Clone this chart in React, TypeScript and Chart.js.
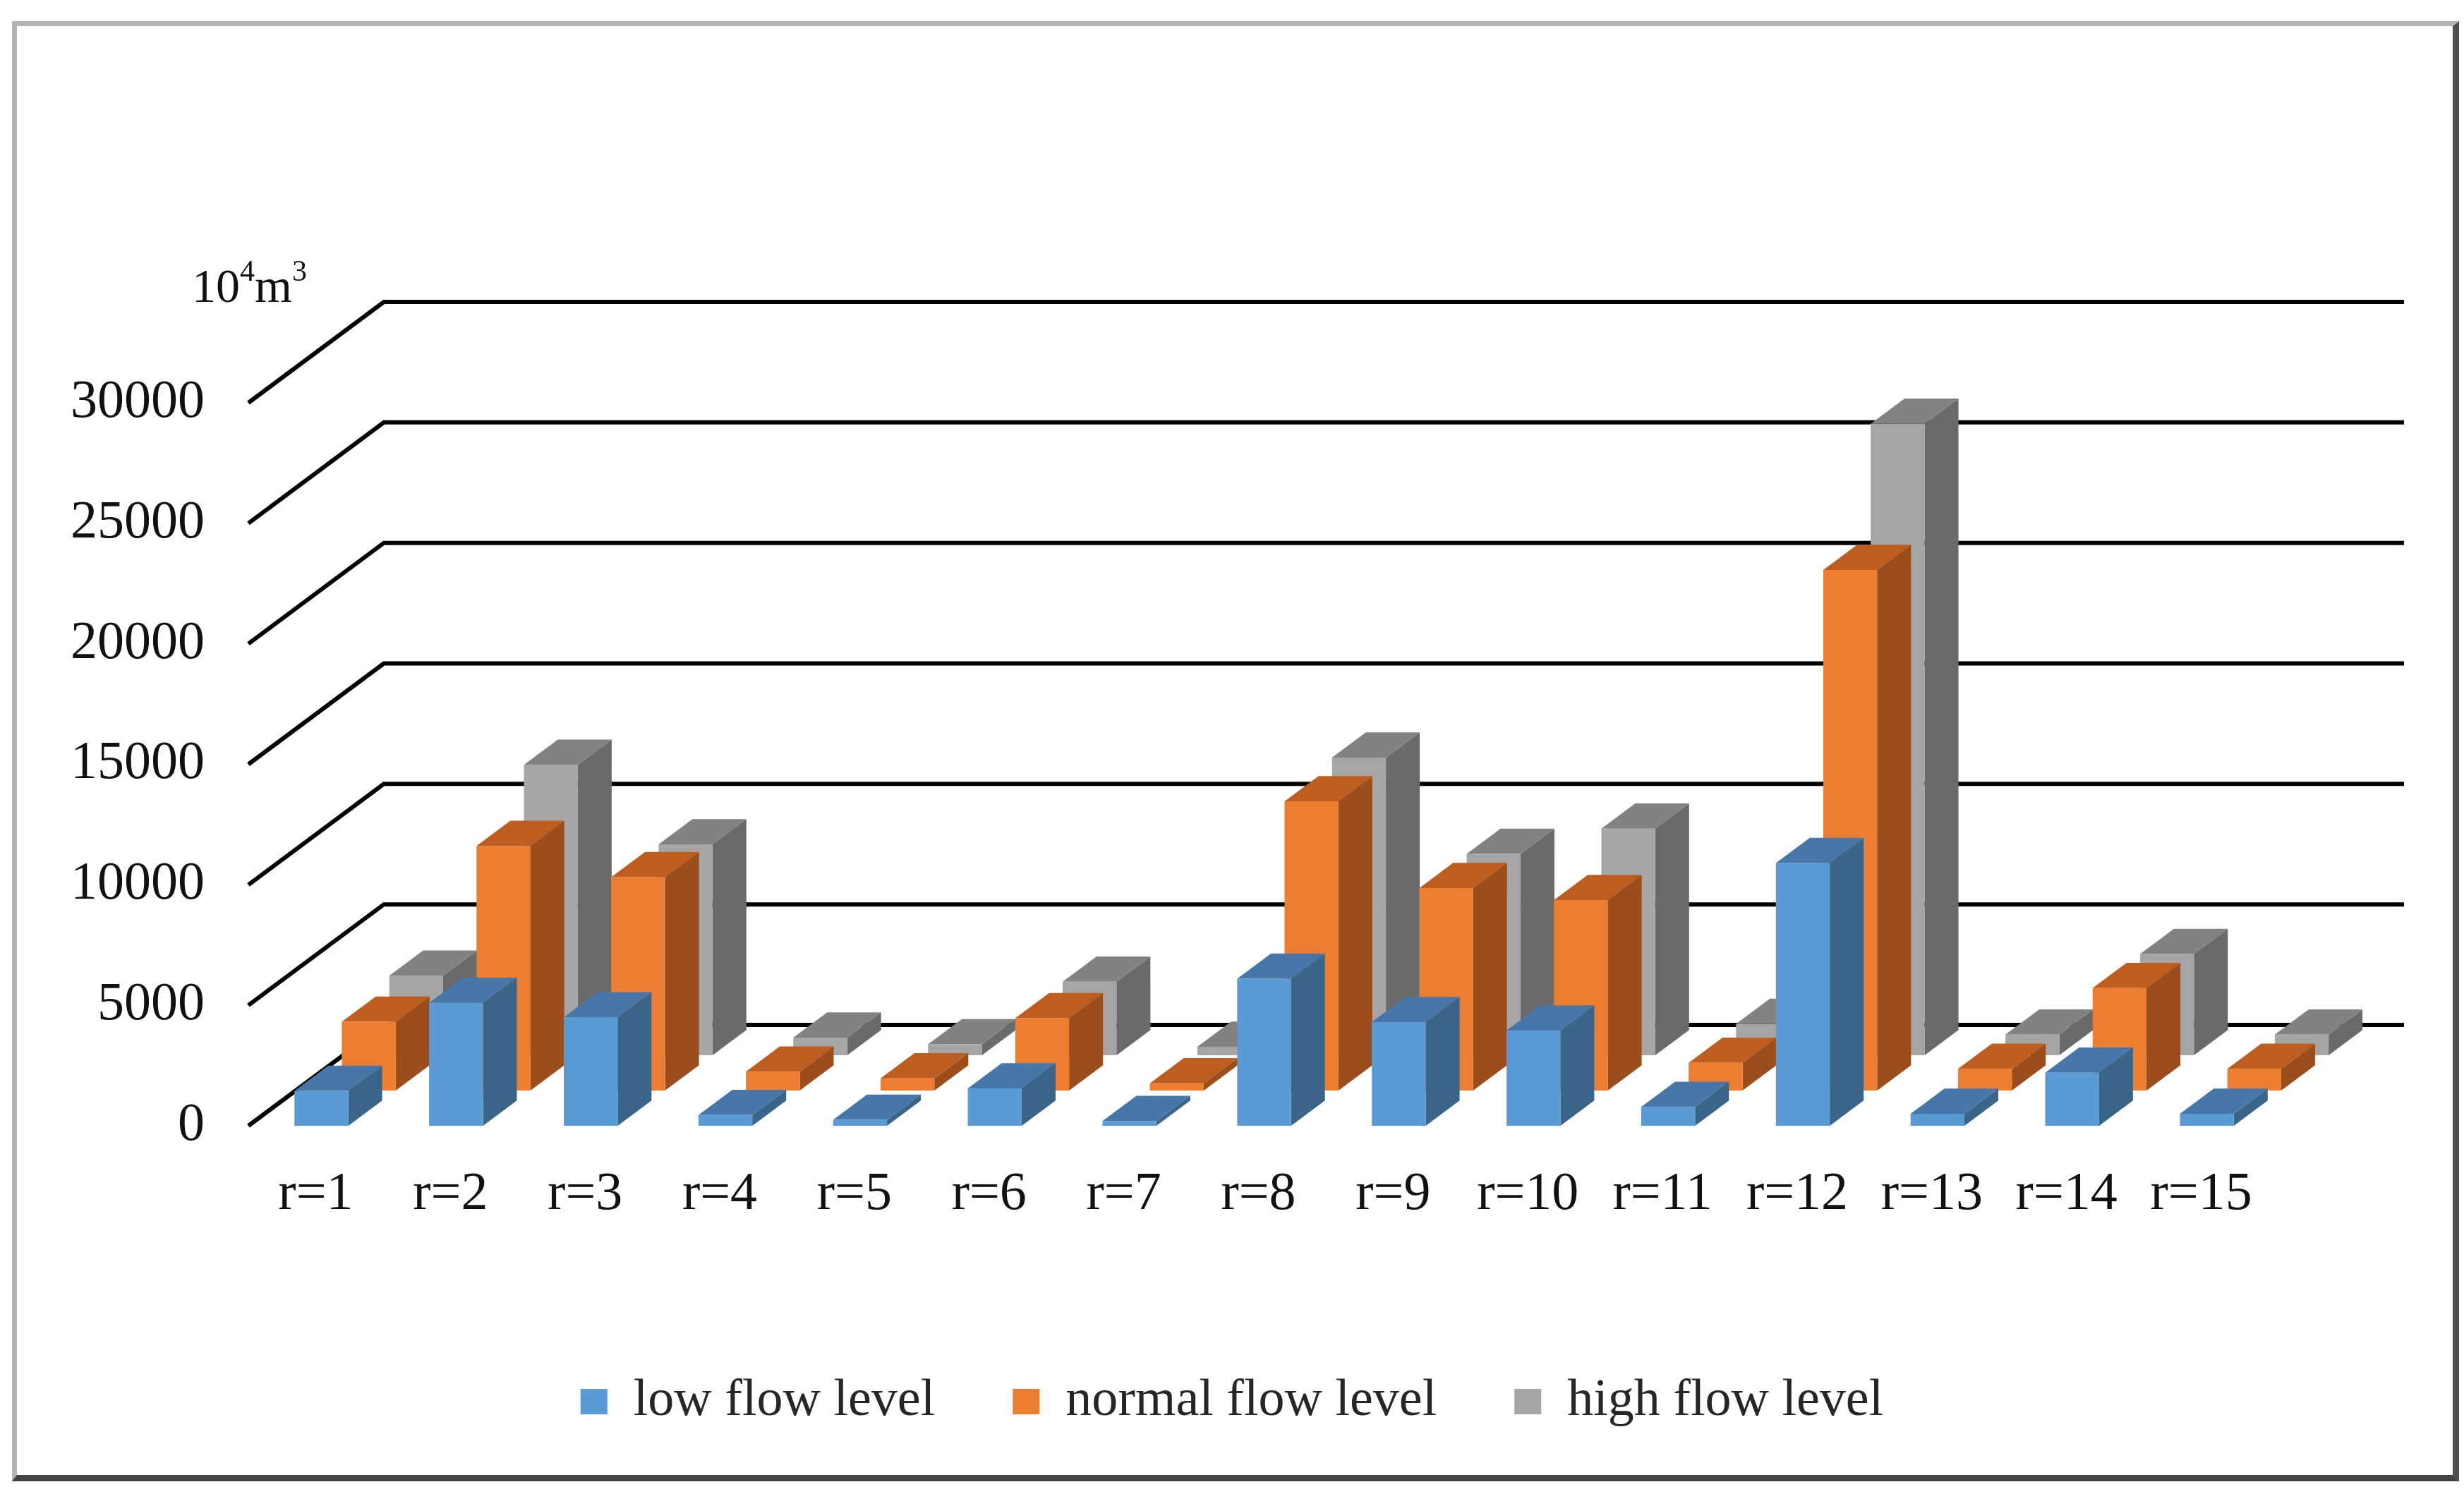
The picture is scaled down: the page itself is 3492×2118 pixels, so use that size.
import React, { useEffect, useRef } from 'react'
import { Chart, registerables } from 'chart.js'

Chart.register(...registerables)

const categories = ['r=1', 'r=2', 'r=3', 'r=4', 'r=5', 'r=6', 'r=7', 'r=8', 'r=9', 'r=10', 'r=11', 'r=12', 'r=13', 'r=14', 'r=15']
const seriesNames = ['low flow level', 'normal flow level', 'high flow level']
const lowFlow = [1450, 5100, 4500, 450, 250, 1550, 200, 6100, 4300, 3950, 780, 10900, 500, 2200, 500]
const normalFlow = [2850, 10150, 8850, 780, 500, 3000, 300, 12000, 8400, 7900, 1150, 21600, 900, 4250, 900]
const highFlow = [3300, 12050, 8750, 730, 450, 3050, 350, 12350, 8350, 9400, 1300, 26200, 850, 4200, 850]
const yTicks = [0, 5000, 10000, 15000, 20000, 25000, 30000]

// front / top / side shades of each series
const shades = [
  { front: '#5b9bd5', top: '#4677a8', side: '#3b6489' },
  { front: '#ed7d31', top: '#bd5e20', side: '#9b4e1c' },
  { front: '#a5a5a5', top: '#828282', side: '#6a6a6a' },
]

const W = 3492
const H = 2118
const PLOT_LEFT = 352
const PLOT_RIGHT = 3215
const PLOT_TOP = 571
const PLOT_BOTTOM = 1596
const DEPTH_X = 192 // floor depth, front edge to back wall
const DEPTH_Y = 143
const SERIES_STEP = 0.35
const BAR_DEPTH = 0.25
const BAR_SHIFT = 8
const FONT = '"Liberation Serif", "Times New Roman", serif'
const TICK_FONT = 76
const LEGEND_FONT = 74
const LEGEND_GAP = 110
const LEGEND_BOTTOM = 84
const X_AXIS_H = H - LEGEND_BOTTOM - (LEGEND_FONT + 10 + LEGEND_GAP) - PLOT_BOTTOM

const fillPoly = (ctx: CanvasRenderingContext2D, pts: number[][], color: string) => {
  ctx.beginPath()
  ctx.moveTo(pts[0][0], pts[0][1])
  for (let i = 1; i < pts.length; i++) ctx.lineTo(pts[i][0], pts[i][1])
  ctx.closePath()
  ctx.fillStyle = color
  ctx.fill()
}

const columns3d = {
  id: 'columns3d',
  beforeDatasetsDraw(chart: any) {
    const { ctx, chartArea, scales } = chart
    ctx.save()

    // side wall and back wall grid
    ctx.strokeStyle = '#000'
    ctx.lineWidth = 6
    ctx.lineJoin = 'miter'
    yTicks.forEach((v) => {
      const py = scales.y.getPixelForValue(v)
      ctx.beginPath()
      ctx.moveTo(chartArea.left, py)
      ctx.lineTo(chartArea.left + DEPTH_X, py - DEPTH_Y)
      ctx.lineTo(chartArea.right + DEPTH_X, py - DEPTH_Y)
      ctx.stroke()
    })

    // columns, back row first
    const dx = BAR_DEPTH * DEPTH_X
    const dy = -BAR_DEPTH * DEPTH_Y
    for (let k = chart.data.datasets.length - 1; k >= 0; k--) {
      const meta = chart.getDatasetMeta(k)
      const ox = k * SERIES_STEP * DEPTH_X + BAR_SHIFT
      const oy = -k * SERIES_STEP * DEPTH_Y
      const c = shades[k]
      meta.data.forEach((bar: any) => {
        const { x, y, base, width } = bar.getProps(['x', 'y', 'base', 'width'], true)
        const l = x - width / 2 + ox
        const r = x + width / 2 + ox
        const t = y + oy
        const b = base + oy
        fillPoly(ctx, [[r, t], [r + dx, t + dy], [r + dx, b + dy], [r, b]], c.side)
        fillPoly(ctx, [[l, t], [r, t], [r + dx, t + dy], [l + dx, t + dy]], c.top)
        fillPoly(ctx, [[l, t], [r, t], [r, b], [l, b]], c.front)
      })
    }
    ctx.restore()
    return false
  },
  afterDraw(chart: any) {
    // unit label 10^4 m^3
    const { ctx } = chart
    ctx.save()
    ctx.fillStyle = '#111'
    ctx.textBaseline = 'alphabetic'
    ctx.textAlign = 'left'
    let x = 272
    const base = 428
    const parts: [string, number, number][] = [['10', 68, 0], ['4', 42, -30], ['m', 68, 0], ['3', 42, -30]]
    parts.forEach(([s, size, rise]) => {
      ctx.font = `${size}px ${FONT}`
      ctx.fillText(s, x, base + rise)
      x += ctx.measureText(s).width
    })
    ctx.restore()
  },
}

export default function App() {
  const canvasRef = useRef<HTMLCanvasElement | null>(null)
  const chartRef = useRef<Chart | null>(null)

  useEffect(() => {
    if (!canvasRef.current) return
    if (chartRef.current) chartRef.current.destroy()

    const values = [lowFlow, normalFlow, highFlow]
    chartRef.current = new Chart(canvasRef.current, {
      type: 'bar',
      data: {
        labels: categories,
        datasets: seriesNames.map((name, i) => ({
          label: name,
          data: values[i],
          backgroundColor: shades[i].front,
          borderWidth: 0,
          grouped: false,
          categoryPercentage: 1,
          barPercentage: 0.4,
        })),
      },
      options: {
        animation: false,
        responsive: true,
        maintainAspectRatio: false,
        layout: { padding: { left: 0, right: 0, top: PLOT_TOP, bottom: LEGEND_BOTTOM } },
        scales: {
          x: {
            grid: { display: false },
            border: { display: false },
            ticks: {
              color: '#111',
              font: { family: FONT, size: TICK_FONT },
              padding: 44,
              maxRotation: 0,
              autoSkip: false,
            },
            afterFit: (scale: any) => { scale.height = X_AXIS_H },
          },
          y: {
            min: 0,
            max: 30000,
            grid: { display: false, drawTicks: false },
            border: { display: false },
            ticks: {
              stepSize: 5000,
              color: '#111',
              font: { family: FONT, size: TICK_FONT },
              padding: PLOT_LEFT - 290,
              callback: (v: any) => String(v),
            },
            afterFit: (scale: any) => { scale.width = PLOT_LEFT },
          },
          yRight: {
            position: 'right',
            grid: { display: false, drawTicks: false },
            border: { display: false },
            ticks: { display: false },
            afterFit: (scale: any) => { scale.width = W - PLOT_RIGHT },
          },
        },
        plugins: {
          legend: {
            position: 'bottom',
            labels: {
              boxWidth: 38,
              boxHeight: 36,
              padding: LEGEND_GAP,
              color: '#262626',
              font: { family: FONT, size: LEGEND_FONT },
            },
          },
          tooltip: { enabled: false },
        },
      },
      plugins: [columns3d],
    })

    return () => {
      if (chartRef.current) {
        chartRef.current.destroy()
        chartRef.current = null
      }
    }
  }, [])

  return (
    <div style={{ position: 'absolute', left: 0, top: 0, width: W, height: H, background: '#fff' }}>
      <div
        style={{
          position: 'absolute',
          left: 17,
          top: 30,
          width: 3485 - 17,
          height: 2100 - 30,
          boxSizing: 'border-box',
          borderTop: '7px solid #b5b5b5',
          borderLeft: '7px solid #b5b5b5',
          borderRight: '9px solid #4f4f4f',
          borderBottom: '9px solid #444',
        }}
      />
      <div style={{ position: 'absolute', left: 0, top: 0, width: W, height: H }}>
        <canvas ref={canvasRef} />
      </div>
    </div>
  )
}
